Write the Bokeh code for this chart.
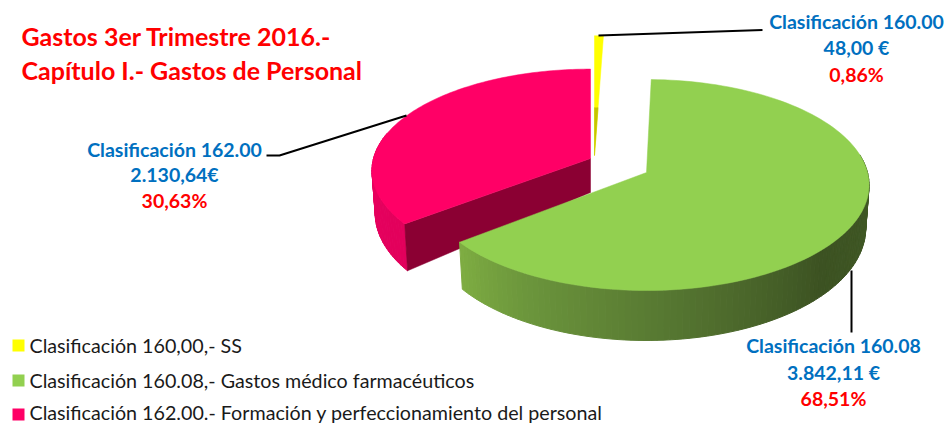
import math
from bokeh.embed import file_html
from bokeh.models import Range1d
from bokeh.plotting import figure
from bokeh.resources import INLINE
from bokeh.core.properties import value

# ---- data
categories = ["Clasificación 160,00,- SS",
              "Clasificación 160.08,- Gastos médico farmacéuticos",
              "Clasificación 162.00.- Formación y perfeccionamiento del personal"]
amounts = [48.00, 3842.11, 2130.64]
colors = ["#FFFF00", "#92D050", "#FF0066"]
label_codes = ["Clasificación 160.00", "Clasificación 160.08", "Clasificación 162.00"]
label_amounts = ["48,00 €", "3.842,11 €", "2.130,64€"]
label_pcts = ["0,86%", "68,51%", "30,63%"]
title_lines = ["Gastos 3er Trimestre 2016.-", "Capítulo I.- Gastos de Personal"]

FONT = "Lato"
K = 0.1185

p = figure(width=946, height=423, output_backend="svg", toolbar_location=None,
           x_range=Range1d(0, 946), y_range=Range1d(423, 0),
           min_border=0, outline_line_color=None)
p.axis.visible = False
p.grid.visible = False
p.background_fill_color = "white"
p.border_fill_color = "white"

# slice fractions, clockwise from 12 o'clock
total = sum(amounts)
edges = [0.0]
for a in amounts:
    edges.append(edges[-1] + a / total * 2 * math.pi)


def rim(ax, ay, rx, ry, t):
    s = 1 / (1 + K * math.cos(t))
    return ax + rx * math.sin(t) * s, ay - ry * math.cos(t) * s


def low(ax, ay, rx, ry, t):
    x, y = rim(ax, ay, rx, ry, t)
    return ax + (x - ax) * 0.985, y + 42 - 8 * math.cos(t)


def arc(t0, t1, n=120):
    return [t0 + (t1 - t0) * i / n for i in range(n + 1)]


def mix(c0, c1, f):
    return "#%02x%02x%02x" % tuple(int(round(a + (b - a) * f)) for a, b in zip(c0, c1))


def ramp(stops, f):
    for (f0, c0), (f1, c1) in zip(stops, stops[1:]):
        if f <= f1:
            return mix(c0, c1, (f - f0) / (f1 - f0))
    return mix(stops[-1][1], stops[-1][1], 0)


def wall(ax, ay, rx, ry, t0, t1, stops, step=math.radians(1.5)):
    n = max(1, int((t1 - t0) / step))
    ts = arc(t0, t1, n)
    for i in range(n):
        a, b = ts[i], ts[i + 1]
        q = [rim(ax, ay, rx, ry, a), rim(ax, ay, rx, ry, b),
             low(ax, ay, rx, ry, b), low(ax, ay, rx, ry, a)]
        c = ramp(stops, i / n)
        p.patch([v[0] for v in q], [v[1] for v in q], fill_color=c, line_color=c, line_width=1)


def face(ax, ay, rx, ry, t0, t1, color):
    pts = [(ax, ay)] + [rim(ax, ay, rx, ry, t) for t in arc(t0, t1)]
    p.patch([v[0] for v in pts], [v[1] for v in pts], fill_color=color, line_color=color, line_width=0.5)


# red slice
RED = (590, 158, 217, 100)
wall(*RED, edges[2], math.radians(285),
     [(0, (226, 0, 92)), (1, (235, 0, 95))])
ex, ey = rim(*RED, edges[2])
lx, ly = low(*RED, edges[2])
p.patch([RED[0], ex, lx, RED[0]], [RED[1], ey, ly, RED[1] + 34],
        fill_color="#8B0033", line_color="#8B0033", line_width=0.5)
face(*RED, edges[2], edges[3], colors[2])

# yellow slice, its tip a little darker
YEL = (594, 155, 200, 134)
face(*YEL, edges[0], edges[1], colors[0])
face(YEL[0], YEL[1], YEL[2] * 0.4, YEL[3] * 0.4, edges[0], edges[1], "#C4C400")

# green slice: the drawn rim sits a little inside the wedge's ends
GRN = (646, 172, 221, 104)
G0 = edges[1] - math.radians(1.5)
G1 = edges[2] - math.radians(1)
wall(*GRN, math.radians(80), G1,
     [(0, (66, 92, 38)), (0.35, (60, 82, 34)), (0.6, (84, 116, 48)),
      (0.85, (108, 150, 60)), (1, (127, 174, 66))])
face(*GRN, G0, G1, colors[1])

# leader lines
leaders_x = [[598, 762], [266, 279, 406], [851, 851]]
leaders_y = [[35, 29.5], [155, 155, 115], [270, 332]]
p.multi_line(leaders_x, leaders_y, line_color="black", line_width=2)

# title
p.text([21, 21], [35, 69], text=title_lines, text_color="#FF0000", text_baseline="middle",
       text_font=value(FONT), text_font_style="bold", text_font_size="25px")

# data labels
label_x = [856, 833, 174]
code_y = [21, 345, 149]
amount_y = [47, 372, 174]
pct_y = [74, 398, 200]
for xs, ys, texts, col in ((label_x, code_y, label_codes, "#0070C0"),
                           (label_x, amount_y, label_amounts, "#0070C0"),
                           (label_x, pct_y, label_pcts, "#FF0000")):
    p.text(xs, ys, text=texts, text_color=col, text_align="center", text_baseline="middle",
           text_font=value(FONT), text_font_style="bold", text_font_size="19.5px")

# legend
leg_y = [345, 380, 414]
leg_text_y = [345, 380, 411.5]
p.rect([18, 18, 18], leg_y, width=12, height=12, fill_color=colors, line_color=None)
p.text([29, 29, 29], leg_text_y, text=categories, text_color="#1a1a1a", text_baseline="middle",
       text_font=value(FONT), text_font_size="19.7px")

open("out.html", "w").write(file_html(p, INLINE))
